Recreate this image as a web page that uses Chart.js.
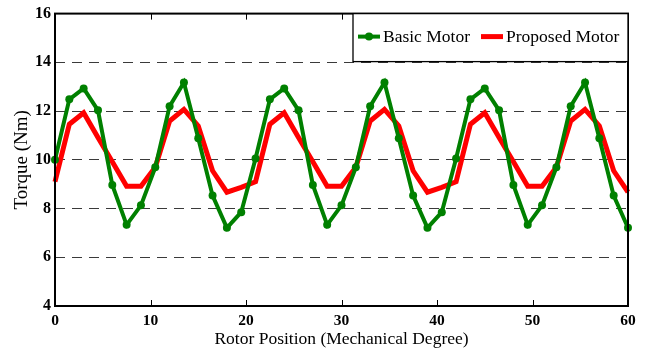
<!DOCTYPE html>
<html>
<head>
<meta charset="utf-8">
<script src="https://cdn.jsdelivr.net/npm/chart.js@4/dist/chart.umd.min.js"></script>
<style>
  html, body { margin: 0; padding: 0; background: #fff; }
  #wrap { width: 648px; height: 352px; }
</style>
</head>
<body>
<div id="wrap"><canvas id="torqueChart" width="648" height="352"></canvas></div>
<script>
// rotor position (mechanical degree)
const rotorPosition = [0, 1.5, 3, 4.5, 6, 7.5, 9, 10.5, 12, 13.5, 15, 16.5, 18, 19.5,
  21, 22.5, 24, 25.5, 27, 28.5, 30, 31.5, 33, 34.5, 36, 37.5, 39, 40.5,
  42, 43.5, 45, 46.5, 48, 49.5, 51, 52.5, 54, 55.5, 57, 58.5, 60];

// torque (Nm)
const basicMotor = [10.0, 12.48, 12.93, 12.03, 8.97, 7.33, 8.13, 9.69, 12.2, 13.17, 10.88, 8.53, 7.21, 7.85,
  10.05, 12.48, 12.93, 12.03, 8.97, 7.33, 8.13, 9.69, 12.2, 13.17, 10.88, 8.53, 7.21, 7.85,
  10.05, 12.48, 12.93, 12.03, 8.97, 7.33, 8.13, 9.69, 12.2, 13.17, 10.88, 8.53, 7.21];

const proposedMotor = [9.1, 11.46, 11.93, 10.92, 9.92, 8.91, 8.91, 9.69, 11.59, 12.07, 11.39, 9.55, 8.67, 8.87,
  9.1, 11.46, 11.93, 10.92, 9.92, 8.91, 8.91, 9.69, 11.59, 12.07, 11.39, 9.55, 8.67, 8.87,
  9.1, 11.46, 11.93, 10.92, 9.92, 8.91, 8.91, 9.69, 11.59, 12.07, 11.39, 9.55, 8.67];

const seriesLabels = ['Basic Motor', 'Proposed Motor'];
const xTitle = 'Rotor Position (Mechanical Degree)';
const yTitle = 'Torque (Nm)';

const serif = "'Liberation Serif', 'Times New Roman', serif";

function toPoints(ys) {
  return ys.map((y, i) => ({ x: rotorPosition[i], y: y }));
}

// box round the plot, inward ticks, legend inside top right
const framePlugin = {
  id: 'frame',
  afterDraw(chart) {
    const { ctx, chartArea: a, scales } = chart;
    ctx.save();
    ctx.strokeStyle = '#000';
    ctx.lineWidth = 1;
    scales.x.ticks.forEach(t => {
      const px = Math.round(scales.x.getPixelForValue(t.value)) + 0.5;
      ctx.beginPath();
      ctx.moveTo(px, a.bottom);
      ctx.lineTo(px, a.bottom - 6);
      ctx.moveTo(px, a.top);
      ctx.lineTo(px, a.top + 6);
      ctx.stroke();
    });
    ctx.lineWidth = 2;
    ctx.strokeRect(a.left, a.top, a.right - a.left, a.bottom - a.top);

    // legend
    const w = 275, h = 48;
    const lx = a.right - w, ly = a.top;
    ctx.fillStyle = '#fff';
    ctx.fillRect(lx, ly, w, h);
    ctx.lineWidth = 1.3;
    ctx.strokeRect(lx, ly, w, h);
    const cy = ly + 23;
    ctx.font = '17.5px ' + serif;
    ctx.textBaseline = 'middle';
    ctx.textAlign = 'left';
    let x = lx + 5;
    chart.data.datasets.forEach(ds => {
      ctx.strokeStyle = ds.borderColor;
      ctx.lineWidth = ds.borderWidth;
      ctx.beginPath();
      ctx.moveTo(x, cy);
      ctx.lineTo(x + 22, cy);
      ctx.stroke();
      if (ds.pointRadius > 0) {
        ctx.fillStyle = ds.borderColor;
        ctx.beginPath();
        ctx.arc(x + 11, cy, ds.pointRadius, 0, Math.PI * 2);
        ctx.fill();
      }
      ctx.fillStyle = '#000';
      ctx.fillText(ds.label, x + 25, cy + 1);
      x += 25 + ctx.measureText(ds.label).width + 11;
    });
    ctx.restore();
  }
};

new Chart(document.getElementById('torqueChart'), {
  type: 'line',
  data: {
    datasets: [
      {
        label: seriesLabels[0],
        data: toPoints(basicMotor),
        borderColor: '#008000',
        backgroundColor: '#008000',
        borderWidth: 4,
        pointRadius: 4,
        pointBorderWidth: 0,
        tension: 0,
        clip: false
      },
      {
        label: seriesLabels[1],
        data: toPoints(proposedMotor),
        borderColor: '#ff0000',
        backgroundColor: '#ff0000',
        borderWidth: 5,
        pointRadius: 0,
        tension: 0,
        clip: false
      }
    ]
  },
  options: {
    responsive: false,
    animation: false,
    layout: { padding: { left: 0, top: 12, right: 20, bottom: 0 } },
    scales: {
      x: {
        type: 'linear',
        min: 0,
        max: 60,
        grid: { display: false },
        border: { display: false },
        ticks: {
          stepSize: 10,
          padding: -2,
          color: '#000',
          font: { family: serif, size: 15.5, weight: 'bold' }
        },
        title: {
          display: true,
          text: xTitle,
          color: '#000',
          padding: { top: 0, bottom: 2.5 },
          font: { family: serif, size: 17.5 }
        },
        afterFit(scale) { scale.height = 46; }
      },
      y: {
        min: 4,
        max: 16,
        grid: {
          drawTicks: false,
          lineWidth: 1,
          color: c => (c.tick.value === 4 || c.tick.value === 16) ? 'rgba(0,0,0,0)' : '#3a3a3a'
        },
        border: { display: false, dash: [10, 7] },
        ticks: {
          stepSize: 2,
          padding: 4,
          color: '#000',
          font: { family: serif, size: 16, weight: 'bold' }
        },
        title: {
          display: true,
          text: yTitle,
          color: '#000',
          padding: { top: 11, bottom: 0 },
          font: { family: serif, size: 19 }
        },
        afterFit(scale) { scale.width = 55; }
      }
    },
    plugins: {
      legend: { display: false },
      tooltip: { enabled: false }
    }
  },
  plugins: [framePlugin]
});
</script>
</body>
</html>
